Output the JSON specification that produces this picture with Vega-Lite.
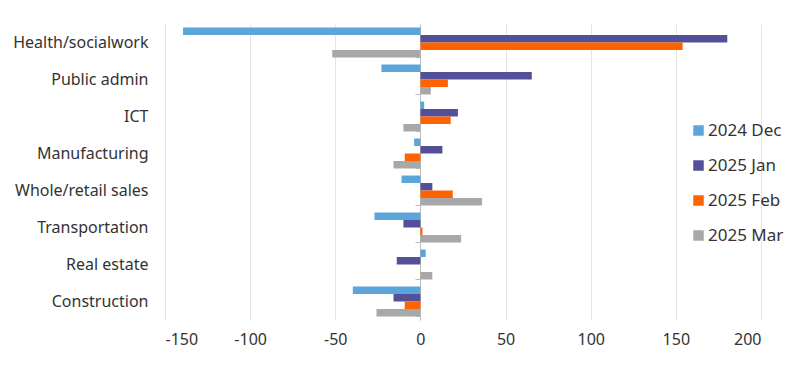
{
  "$schema": "https://vega.github.io/schema/vega-lite/v6.json",
  "autosize": {"type": "none"},
  "width": 596,
  "height": 296,
  "padding": {"left": 165, "top": 24, "right": 39, "bottom": 48},
  "background": "white",
  "config": {
    "view": {"stroke": null},
    "font": "Noto Sans",
    "axis": {"labelFont": "Noto Sans", "labelColor": "#333333", "labelFontSize": 16}
  },
  "data": {
    "values": [
      {"sector": "Health/socialwork", "series": "2024 Dec", "value": -139.4},
      {"sector": "Health/socialwork", "series": "2025 Jan", "value": 180.2},
      {"sector": "Health/socialwork", "series": "2025 Feb", "value": 154},
      {"sector": "Health/socialwork", "series": "2025 Mar", "value": -51.8},
      {"sector": "Public admin", "series": "2024 Dec", "value": -22.9},
      {"sector": "Public admin", "series": "2025 Jan", "value": 65.4},
      {"sector": "Public admin", "series": "2025 Feb", "value": 16.1},
      {"sector": "Public admin", "series": "2025 Mar", "value": 6.1},
      {"sector": "ICT", "series": "2024 Dec", "value": 2.2},
      {"sector": "ICT", "series": "2025 Jan", "value": 22},
      {"sector": "ICT", "series": "2025 Feb", "value": 17.8},
      {"sector": "ICT", "series": "2025 Mar", "value": -10},
      {"sector": "Manufacturing ", "series": "2024 Dec", "value": -3.7},
      {"sector": "Manufacturing ", "series": "2025 Jan", "value": 12.9},
      {"sector": "Manufacturing ", "series": "2025 Feb", "value": -9.2},
      {"sector": "Manufacturing ", "series": "2025 Mar", "value": -15.8},
      {"sector": "Whole/retail sales", "series": "2024 Dec", "value": -11.1},
      {"sector": "Whole/retail sales", "series": "2025 Jan", "value": 7},
      {"sector": "Whole/retail sales", "series": "2025 Feb", "value": 19},
      {"sector": "Whole/retail sales", "series": "2025 Mar", "value": 36.2},
      {"sector": "Transportation", "series": "2024 Dec", "value": -27},
      {"sector": "Transportation", "series": "2025 Jan", "value": -10},
      {"sector": "Transportation", "series": "2025 Feb", "value": 1.2},
      {"sector": "Transportation", "series": "2025 Mar", "value": 23.9},
      {"sector": "Real estate", "series": "2024 Dec", "value": 3.1},
      {"sector": "Real estate", "series": "2025 Jan", "value": -13.9},
      {"sector": "Real estate", "series": "2025 Feb", "value": 0},
      {"sector": "Real estate", "series": "2025 Mar", "value": 7},
      {"sector": "Construction", "series": "2024 Dec", "value": -39.7},
      {"sector": "Construction", "series": "2025 Jan", "value": -15.8},
      {"sector": "Construction", "series": "2025 Feb", "value": -9.2},
      {"sector": "Construction", "series": "2025 Mar", "value": -25.8}
    ]
  },
  "resolve": {"axis": {"y": "independent"}},
  "layer": [
    {
      "mark": {"type": "bar"},
      "encoding": {
        "y": {
          "field": "sector", "type": "nominal",
          "sort": ["Health/socialwork", "Public admin", "ICT", "Manufacturing ", "Whole/retail sales", "Transportation", "Real estate", "Construction"],
          "scale": {"paddingInner": 0.19, "paddingOuter": 0.095},
          "axis": {"title": null, "domain": false, "ticks": false, "labelPadding": 17, "grid": false}
        },
        "yOffset": {"field": "series", "type": "nominal", "sort": ["2024 Dec", "2025 Jan", "2025 Feb", "2025 Mar"]},
        "x": {
          "field": "value", "type": "quantitative",
          "scale": {"domain": [-150, 200], "nice": false},
          "axis": {"title": null, "values": [-150, -100, -50, 0, 50, 100, 150, 200], "labelExpr": "datum.value < 0 ? '-' + abs(datum.value) : '' + datum.value", "domain": false, "ticks": false, "labelPadding": 11, "grid": true, "gridColor": "#e4e4e4", "gridWidth": 1}
        },
        "color": {
          "field": "series", "type": "nominal",
          "sort": ["2024 Dec", "2025 Jan", "2025 Feb", "2025 Mar"],
          "scale": {"domain": ["2024 Dec", "2025 Jan", "2025 Feb", "2025 Mar"], "range": ["#5BA5DB", "#535099", "#FF6200", "#A8A8A8"]},
          "legend": {
            "title": null, "orient": "none", "legendX": 525, "legendY": 98,
            "symbolType": "square", "symbolSize": 110, "symbolStrokeWidth": 0,
            "labelFontSize": 17, "labelColor": "#333333", "labelFont": "Noto Sans",
            "rowPadding": 17, "labelOffset": 1
          }
        }
      }
    },
    {
      "mark": {"type": "rule", "color": "#bdbdbd", "strokeWidth": 1},
      "data": {"values": [{"sector": "Health/socialwork"}]},
      "encoding": {
        "y": {
          "field": "sector", "type": "nominal",
          "sort": ["Health/socialwork", "Public admin", "ICT", "Manufacturing ", "Whole/retail sales", "Transportation", "Real estate", "Construction"],
          "axis": {"title": null, "orient": "right", "labels": false, "domain": true, "domainColor": "#bdbdbd", "ticks": true, "tickColor": "#bdbdbd", "tickSize": -5, "tickBand": "extent", "offset": -341, "grid": false}
        },
        "opacity": {"value": 0}
      }
    }
  ]
}
